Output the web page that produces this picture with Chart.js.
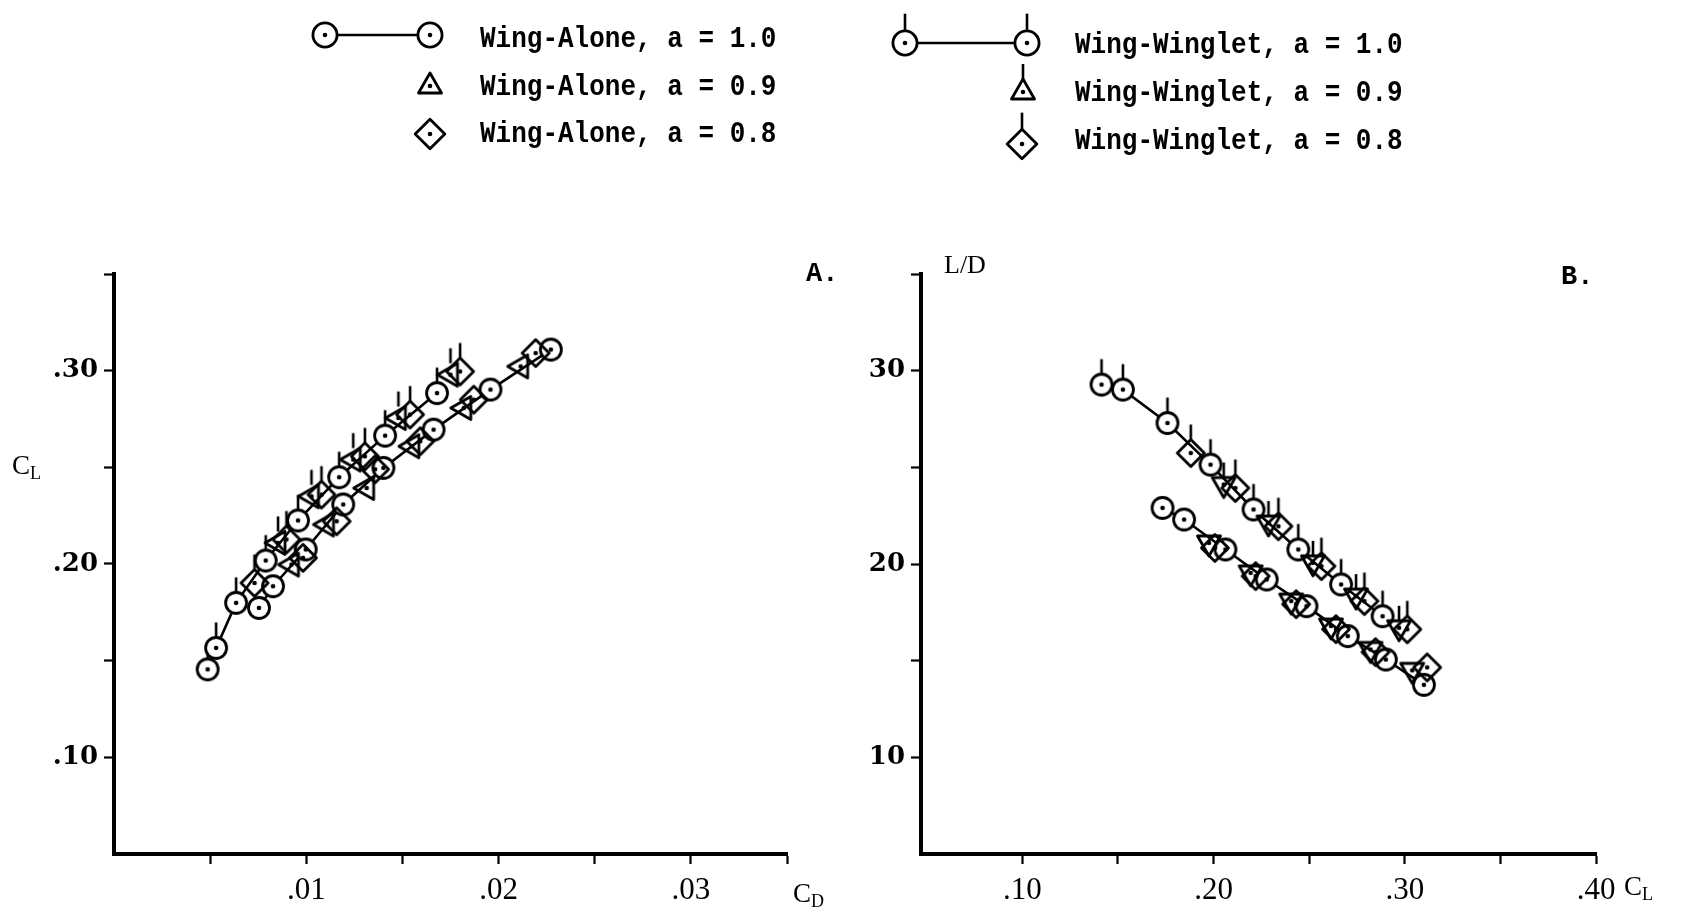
<!DOCTYPE html>
<html><head><meta charset="utf-8">
<script src="https://cdn.jsdelivr.net/npm/chart.js@4.4.0/dist/chart.umd.min.js"></script>
<style>
html,body{margin:0;padding:0;background:#fff;}
body{width:1698px;height:912px;position:relative;overflow:hidden;}
.abs{position:absolute;white-space:nowrap;color:#000;}
.leg{font-family:"Liberation Mono",monospace;font-weight:bold;font-size:26px;line-height:30px;transform:scaleY(1.12);transform-origin:left center;}
.ttl{font-family:"Liberation Serif",serif;font-size:27px;line-height:30px;}
.ttl sub{font-size:18px;vertical-align:-5px;}
.lab{font-family:"Liberation Mono",monospace;font-weight:bold;font-size:27px;line-height:30px;}
</style></head><body>
<canvas id="legendSym" class="abs" width="1698" height="180" style="left:0;top:0"></canvas>
<div class="abs leg" style="left:480px;top:24px">Wing-Alone, a = 1.0</div>
<div class="abs leg" style="left:480px;top:72px">Wing-Alone, a = 0.9</div>
<div class="abs leg" style="left:480px;top:119px">Wing-Alone, a = 0.8</div>
<div class="abs leg" style="left:1075px;top:30px">Wing-Winglet, a = 1.0</div>
<div class="abs leg" style="left:1075px;top:78px">Wing-Winglet, a = 0.9</div>
<div class="abs leg" style="left:1075px;top:126px">Wing-Winglet, a = 0.8</div>

<canvas id="cA" class="abs" width="860" height="692" style="left:0;top:220px;width:860px;height:692px"></canvas>
<canvas id="cB" class="abs" width="838" height="692" style="left:860px;top:220px;width:838px;height:692px"></canvas>

<div class="abs ttl" style="left:12px;top:450px">C<sub>L</sub></div>
<div class="abs ttl" style="left:944px;top:250px;font-size:26px">L/D</div>
<div class="abs ttl" style="left:793px;top:878px">C<sub>D</sub></div>
<div class="abs ttl" style="left:1624px;top:871px">C<sub>L</sub></div>
<div class="abs lab" style="left:806px;top:259px">A.</div>
<div class="abs lab" style="left:1561px;top:262px">B.</div>

<script>
// ---------------- DATA ----------------
// Chart A: C_L vs C_D
const waA10_CD = [0.00754, 0.00827, 0.00997, 0.01192, 0.01401, 0.01662, 0.01958, 0.02272];
const waA10_CL = [0.1773, 0.1885, 0.2075, 0.2308, 0.2497, 0.2695, 0.2902, 0.3109];
const waA09_CD = [0.00923, 0.01105, 0.01314, 0.01549, 0.01819, 0.02115];
const waA09_CL = [0.1997, 0.2204, 0.2393, 0.2609, 0.2807, 0.3022];
const waA08_CD = [0.00983, 0.01158, 0.01358, 0.01593, 0.01871, 0.02193];
const waA08_CL = [0.2032, 0.2221, 0.2490, 0.2635, 0.2850, 0.3091];
const wwA10_CD = [0.00487, 0.00531, 0.00635, 0.00789, 0.00957, 0.01171, 0.01410, 0.01680];
const wwA10_CL = [0.1455, 0.1566, 0.1799, 0.2018, 0.2225, 0.2449, 0.2664, 0.2884];
const wwA09_CD = [0.00853, 0.01027, 0.01244, 0.01479, 0.01750];
const wwA09_CL = [0.2109, 0.2350, 0.2540, 0.2755, 0.2979];
const wwA08_CD = [0.00731, 0.00897, 0.01079, 0.01305, 0.01540, 0.01800];
const wwA08_CL = [0.1902, 0.2127, 0.2359, 0.2557, 0.2773, 0.2996];

// Chart B: L/D vs C_L
const waB10_CL = [0.1733, 0.1846, 0.2062, 0.2278, 0.2486, 0.2702, 0.2901, 0.3100];
const waB10_LD = [22.90, 22.30, 20.75, 19.20, 17.82, 16.27, 15.06, 13.75];
const waB09_CL = [0.1976, 0.2194, 0.2406, 0.2614, 0.2821, 0.3039];
const waB09_LD = [21.09, 19.54, 18.08, 16.79, 15.58, 14.50];
const waB08_CL = [0.2007, 0.2220, 0.2432, 0.2640, 0.2847, 0.3117];
const waB08_LD = [20.83, 19.37, 17.92, 16.63, 15.44, 14.65];
const wwB10_CL = [0.1414, 0.1526, 0.1759, 0.1984, 0.2209, 0.2443, 0.2667, 0.2884];
const wwB10_LD = [29.28, 29.02, 27.29, 25.14, 22.82, 20.75, 18.94, 17.30];
const wwB09_CL = [0.2053, 0.2287, 0.2520, 0.2745, 0.2970];
const wwB09_LD = [24.11, 22.12, 20.06, 18.34, 16.70];
const wwB08_CL = [0.1881, 0.2114, 0.2339, 0.2564, 0.2789, 0.3013];
const wwB08_LD = [25.74, 23.93, 21.95, 19.89, 18.08, 16.62];

// Tick labels
const xTicksA = [0.01, 0.02, 0.03];        const xLabelsA = ['.01', '.02', '.03'];
const yTicksA = [0.10, 0.20, 0.30];        const yLabelsA = ['.10', '.20', '.30'];
const xTicksB = [0.10, 0.20, 0.30, 0.40];  const xLabelsB = ['.10', '.20', '.30', '.40'];
const yTicksB = [10, 20, 30];              const yLabelsB = ['10', '20', '30'];

// ---------------- MARKERS ----------------
function drawShape(g, shape, cx, cy, s, flag, rot) {
  g.save();
  g.lineWidth = 2.8; g.strokeStyle = '#000'; g.lineJoin = 'round';
  let top;
  if (shape === 'circle') {
    g.beginPath(); g.arc(cx, cy, 10.5 * s, 0, Math.PI * 2);
    g.fillStyle = '#fff'; g.fill(); g.stroke(); top = cy - 10.5 * s;
  } else if (shape === 'triangle') {
    const r = rot || 0, c = Math.cos(r), sn = Math.sin(r);
    const v = [[0, -13 * s], [11.5 * s, 7 * s], [-11.5 * s, 7 * s]].map(p => [cx + p[0] * c - p[1] * sn, cy + p[0] * sn + p[1] * c]);
    g.beginPath(); g.moveTo(v[0][0], v[0][1]); g.lineTo(v[1][0], v[1][1]); g.lineTo(v[2][0], v[2][1]); g.closePath();
    g.stroke(); top = Math.min(v[0][1], v[1][1], v[2][1]);
  } else {
    g.beginPath(); g.moveTo(cx, cy - 13.5 * s); g.lineTo(cx + 13.5 * s, cy); g.lineTo(cx, cy + 13.5 * s); g.lineTo(cx - 13.5 * s, cy); g.closePath();
    g.stroke(); top = cy - 13.5 * s;
  }
  g.beginPath(); g.arc(cx, cy, 2.3, 0, Math.PI * 2); g.fillStyle = '#000'; g.fill();
  if (flag) {
    g.beginPath(); g.moveTo(cx, top); g.lineTo(cx, top - 15 * s); g.lineWidth = 2.6; g.stroke();
  }
  g.restore();
}
function marker(shape, flag, rot) {
  const c = document.createElement('canvas'); c.width = 70; c.height = 70;
  drawShape(c.getContext('2d'), shape, 35, 35, 1, flag, rot);
  return c;
}

// legend symbols
(function () {
  const g = document.getElementById('legendSym').getContext('2d');
  g.lineWidth = 2.6; g.strokeStyle = '#000';
  g.beginPath(); g.moveTo(325, 35); g.lineTo(430, 35); g.stroke();
  drawShape(g, 'circle', 325, 35, 1.15, false);
  drawShape(g, 'circle', 430, 35, 1.15, false);
  drawShape(g, 'triangle', 430, 86, 1.0, false);
  drawShape(g, 'diamond', 430, 134, 1.1, false);
  g.beginPath(); g.moveTo(905, 43); g.lineTo(1027, 43); g.lineWidth = 2.6; g.stroke();
  drawShape(g, 'circle', 905, 43, 1.15, true);
  drawShape(g, 'circle', 1027, 43, 1.15, true);
  drawShape(g, 'triangle', 1023, 92, 1.0, true);
  drawShape(g, 'diamond', 1022, 144, 1.1, true);
})();

// ---------------- CHARTS ----------------
function pts(xs, ys) { return xs.map((x, i) => ({ x: x, y: ys[i] })); }
function labelFor(ticks, labels) {
  return function (v) {
    const i = ticks.findIndex(t => Math.abs(t - v) < 1e-7);
    return i >= 0 ? labels[i] : '';
  };
}
function axis(min, max, step, ticks, labels, font, pad, isX, size, hideBelow) {
  return {
    type: 'linear', min: min, max: max,
    border: { display: true, color: '#000', width: 4 },
    grid: {
      display: true, drawOnChartArea: false, drawTicks: true, tickLength: 10, tickWidth: 2.2,
      tickColor: (ctx) => (ctx.tick && ctx.tick.value < hideBelow) ? 'rgba(0,0,0,0)' : '#000'
    },
    ticks: {
      stepSize: step, includeBounds: false, autoSkip: false, maxRotation: 0, minRotation: 0, color: '#000',
      font: font, padding: pad, callback: labelFor(ticks, labels)
    },
    afterFit: (s) => { if (isX) s.height = size; else s.width = size; }
  };
}
function datasets(d, triRot) {
  const circ = marker('circle', false), circF = marker('circle', true);
  return [
    { data: d.wa10, showLine: true, borderColor: '#000', borderWidth: 2.6, pointStyle: circ, order: 2 },
    { data: d.ww10, showLine: true, borderColor: '#000', borderWidth: 2.6, pointStyle: circF, order: 2 },
    { data: d.wa09, showLine: false, pointStyle: marker('triangle', false, triRot), order: 1 },
    { data: d.wa08, showLine: false, pointStyle: marker('diamond', false), order: 1 },
    { data: d.ww09, showLine: false, pointStyle: marker('triangle', true, triRot), order: 1 },
    { data: d.ww08, showLine: false, pointStyle: marker('diamond', true), order: 1 }
  ];
}
const basePlugins = { legend: { display: false }, tooltip: { enabled: false } };
const xFont = { family: 'Liberation Serif', size: 31, weight: 'normal' };
const yFont = { family: 'DejaVu Serif', size: 26, weight: 'bold' };

new Chart(document.getElementById('cA'), {
  type: 'scatter',
  data: { datasets: datasets({
    wa10: pts(waA10_CD, waA10_CL), wa09: pts(waA09_CD, waA09_CL), wa08: pts(waA08_CD, waA08_CL),
    ww10: pts(wwA10_CD, wwA10_CL), ww09: pts(wwA09_CD, wwA09_CL), ww08: pts(wwA08_CD, wwA08_CL)
  }, -Math.PI / 2) },
  options: {
    responsive: false, animation: false, events: [],
    layout: { padding: { left: 0, right: 73, top: 54, bottom: 0 } },
    plugins: basePlugins,
    scales: {
      x: axis(0, 0.035, 0.005, xTicksA, xLabelsA, xFont, 8, true, 58, 0.001),
      y: axis(0.05, 0.35, 0.05, yTicksA, yLabelsA, yFont, 6, false, 114, 0.06)
    }
  }
});

new Chart(document.getElementById('cB'), {
  type: 'scatter',
  data: { datasets: datasets({
    wa10: pts(waB10_CL, waB10_LD), wa09: pts(waB09_CL, waB09_LD), wa08: pts(waB08_CL, waB08_LD),
    ww10: pts(wwB10_CL, wwB10_LD), ww09: pts(wwB09_CL, wwB09_LD), ww08: pts(wwB08_CL, wwB08_LD)
  }, Math.PI) },
  options: {
    responsive: false, animation: false, events: [],
    layout: { padding: { left: 0, right: 102, top: 54, bottom: 0 } },
    plugins: basePlugins,
    scales: {
      x: axis(0.047, 0.40, 0.05, xTicksB, xLabelsB, xFont, 8, true, 58, 0.06),
      y: axis(5, 35, 5, yTicksB, yLabelsB, yFont, 6, false, 61, 6)
    }
  }
});
</script>
</body></html>
